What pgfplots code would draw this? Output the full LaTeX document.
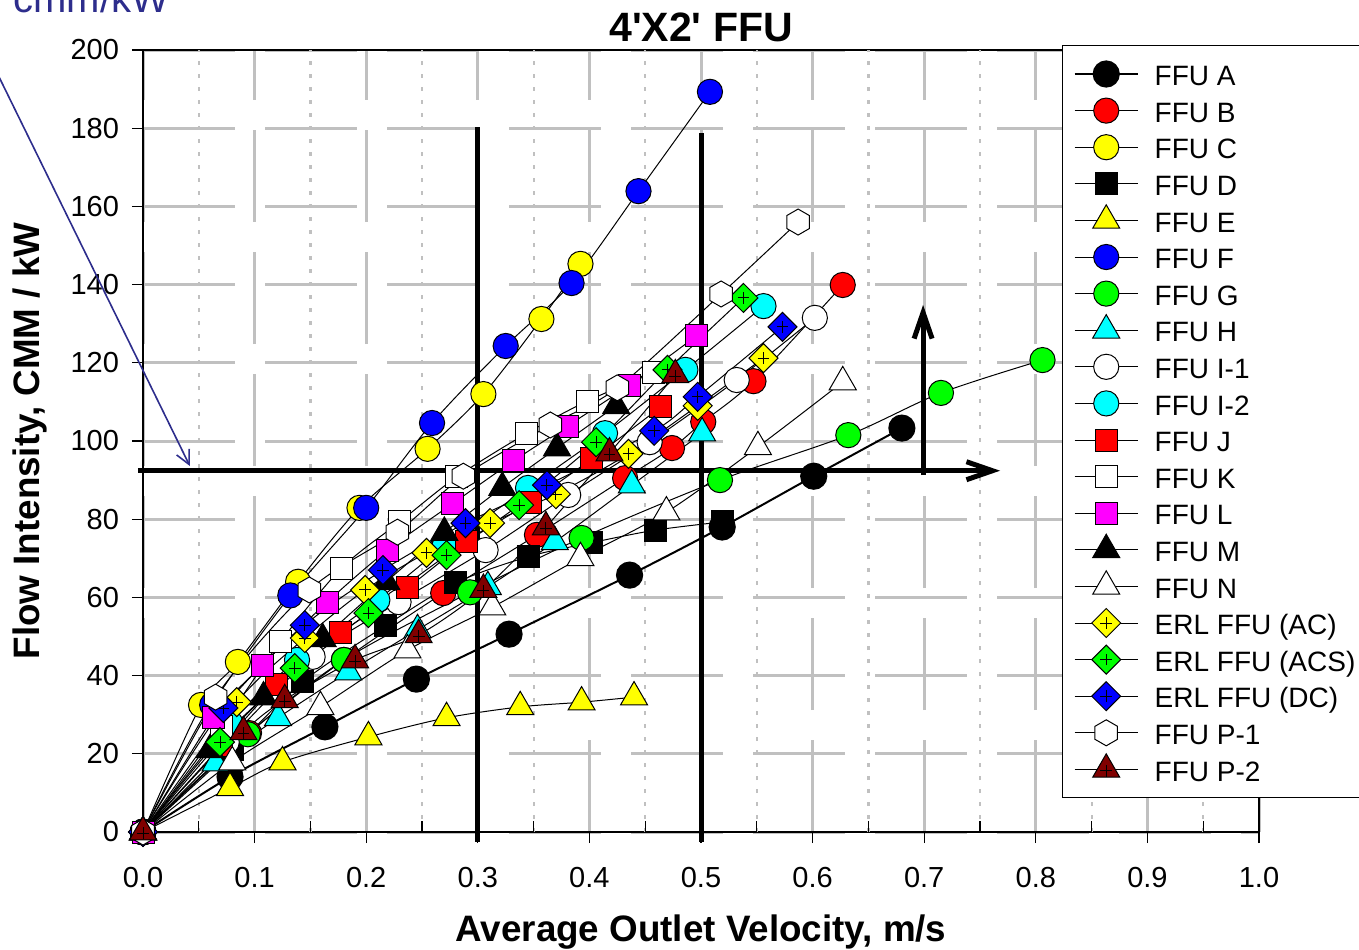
\documentclass[border=0pt]{standalone}
\usepackage{fontspec}
\setmainfont{Liberation Sans}
\usepackage{pgfplots}
\pgfplotsset{compat=1.18}
\usetikzlibrary{arrows.meta}

\definecolor{navyA}{RGB}{45,45,140}
\definecolor{gridg}{RGB}{192,192,192}
\definecolor{dkred}{RGB}{128,0,0}
\definecolor{cR}{RGB}{255,0,0}
\definecolor{cY}{RGB}{255,255,0}
\definecolor{cB}{RGB}{0,0,255}
\definecolor{cG}{RGB}{0,255,0}
\definecolor{cC}{RGB}{0,255,255}
\definecolor{cM}{RGB}{255,0,255}
\definecolor{cK}{RGB}{0,0,0}
\definecolor{cW}{RGB}{255,255,255}

\pgfdeclareplotmark{hexa}{%
 \pgfpathmoveto{\pgfqpointpolar{90}{\pgfplotmarksize}}%
 \pgfpathlineto{\pgfqpointpolar{150}{\pgfplotmarksize}}%
 \pgfpathlineto{\pgfqpointpolar{210}{\pgfplotmarksize}}%
 \pgfpathlineto{\pgfqpointpolar{270}{\pgfplotmarksize}}%
 \pgfpathlineto{\pgfqpointpolar{330}{\pgfplotmarksize}}%
 \pgfpathlineto{\pgfqpointpolar{30}{\pgfplotmarksize}}%
 \pgfpathclose\pgfusepathqfillstroke}
\pgfdeclareplotmark{tri}{%
 \pgfpathmoveto{\pgfqpointpolar{90}{\pgfplotmarksize}}%
 \pgfpathlineto{\pgfqpointpolar{210}{\pgfplotmarksize}}%
 \pgfpathlineto{\pgfqpointpolar{330}{\pgfplotmarksize}}%
 \pgfpathclose\pgfusepathqfillstroke}
\pgfdeclareplotmark{triplus}{%
 \pgfpathmoveto{\pgfqpointpolar{90}{\pgfplotmarksize}}%
 \pgfpathlineto{\pgfqpointpolar{210}{\pgfplotmarksize}}%
 \pgfpathlineto{\pgfqpointpolar{330}{\pgfplotmarksize}}%
 \pgfpathclose\pgfusepathqfillstroke
 \pgfpathmoveto{\pgfqpoint{-0.38\pgfplotmarksize}{-0.08\pgfplotmarksize}}%
 \pgfpathlineto{\pgfqpoint{0.38\pgfplotmarksize}{-0.08\pgfplotmarksize}}%
 \pgfpathmoveto{\pgfqpoint{0pt}{-0.46\pgfplotmarksize}}%
 \pgfpathlineto{\pgfqpoint{0pt}{0.30\pgfplotmarksize}}%
 \pgfusepathqstroke}
\pgfdeclareplotmark{diamondplus}{%
 \pgfpathmoveto{\pgfqpoint{0pt}{\pgfplotmarksize}}%
 \pgfpathlineto{\pgfqpoint{\pgfplotmarksize}{0pt}}%
 \pgfpathlineto{\pgfqpoint{0pt}{-\pgfplotmarksize}}%
 \pgfpathlineto{\pgfqpoint{-\pgfplotmarksize}{0pt}}%
 \pgfpathclose\pgfusepathqfillstroke
 \pgfpathmoveto{\pgfqpoint{-0.4\pgfplotmarksize}{0pt}}%
 \pgfpathlineto{\pgfqpoint{0.4\pgfplotmarksize}{0pt}}%
 \pgfpathmoveto{\pgfqpoint{0pt}{-0.4\pgfplotmarksize}}%
 \pgfpathlineto{\pgfqpoint{0pt}{0.4\pgfplotmarksize}}%
 \pgfusepathqstroke}

\pgfplotsset{
 ser/.style={black, line width=0.5pt, smooth, tension=0.5, mark options={solid, draw=black, line width=0.5pt}},
 circ/.style={ser, mark=*, mark size=6.3pt, mark options={fill=#1}},
 sq/.style={ser, mark=square*, mark size=5.5pt, mark options={fill=#1}},
 tr/.style={ser, mark=tri, mark size=7.8pt, mark options={fill=#1}},
 trp/.style={ser, mark=triplus, mark size=7.8pt, mark options={fill=#1}},
 dp/.style={ser, mark=diamondplus, mark size=7.25pt, mark options={fill=#1}},
 hx/.style={ser, mark=hexa, mark size=6.5pt, mark options={fill=#1}},
}

\begin{document}
\begin{tikzpicture}
\begin{axis}[
 at={(71.5pt,58.5pt)}, anchor=south west,
 scale only axis, width=558pt, height=391pt,
 xmin=0, xmax=1, ymin=0, ymax=200,
 xtick={0,0.1,0.2,0.3,0.4,0.5,0.6,0.7,0.8,0.9,1.0},
 xticklabels={0.0,0.1,0.2,0.3,0.4,0.5,0.6,0.7,0.8,0.9,1.0},
 ytick={0,20,40,60,80,100,120,140,160,180,200},
 tick pos=left, tick align=outside, major tick length=5.5pt,
 tick style={black, line width=0.6pt},
 axis line style={line width=0.6pt},
 extra x ticks={0.05,0.15,0.25,0.35,0.45,0.55,0.65,0.75,0.85,0.95},
 extra x tick labels={},
 extra x tick style={tick align=inside, xmajorgrids=true,
   major grid style={gridg, line width=1.1pt, dash pattern=on 2pt off 4.5pt}},
 grid=major,
 major grid style={gridg, line width=1.5pt, dash pattern=on 46pt off 15pt},
 /pgf/number format/assume math mode=true,
 ticklabel style={font=\fontsize{14.5}{14.5}\selectfont},
 xticklabel style={yshift=-8.5pt},
 yticklabel style={xshift=-3pt},
 label style={font=\bfseries\fontsize{18.4}{18.4}\selectfont},
 xlabel={Average Outlet Velocity, m/s},
 ylabel={Flow Intensity, CMM / kW},
 xlabel style={at={(axis description cs:0.5,-0.128)}, anchor=center},
 ylabel style={at={(axis description cs:-0.101,0.5)}, anchor=center},
 title={4\textquotesingle X2\textquotesingle\ FFU},
 title style={font=\bfseries\fontsize{20.5}{20.5}\selectfont, at={(axis description cs:0.5,1.014)}, anchor=center},
 clip=false,
 legend style={at={(axis description cs:0.8235,1.0064)}, anchor=north west,
   draw=black, line width=0.7pt, fill=white, font=\fontsize{14}{14}\selectfont,
   inner xsep=5.5pt, inner ysep=5pt, row sep=0pt,
   nodes={inner xsep=3.5pt, inner ysep=0pt, text height=15pt, text depth=3.3pt},
   /tikz/every odd column/.append style={column sep=4.5pt}},
 legend cell align=left,
 legend image code/.code={\draw[mark repeat=2,mark phase=2,#1] plot coordinates {(0pt,0pt) (15.75pt,0pt) (31.5pt,0pt)};},
]
\addplot[circ=cK, line width=1pt] coordinates {(0,0)(0.078,14.1)(0.163,26.9)(0.245,39.1)(0.328,50.6)(0.436,65.7)(0.519,78.0)(0.601,91.0)(0.680,103.3)};
\addlegendentry{FFU A}
\addplot[circ=cR] coordinates {(0,0)(0.095,25.3)(0.18,44)(0.269,61.1)(0.353,76)(0.432,90.5)(0.474,98.2)(0.502,104.9)(0.547,115.3)(0.627,139.9)};
\addlegendentry{FFU B}
\addplot[circ=cY] coordinates {(0,0)(0.052,32.5)(0.085,43.5)(0.139,64)(0.194,82.9)(0.255,98.0)(0.305,112.0)(0.357,131.2)(0.392,145.3)};
\addlegendentry{FFU C}
\addplot[sq=cK] coordinates {(0,0)(0.08,21)(0.143,38.4)(0.217,52.7)(0.28,63.7)(0.345,70.4)(0.402,74)(0.459,77.2)(0.519,79.3)};
\addlegendentry{FFU D}
\addplot[tr=cY] coordinates {(0,0)(0.078,11.3)(0.125,17.9)(0.202,24.3)(0.272,29.2)(0.338,32)(0.393,33.2)(0.44,34.5)};
\addlegendentry{FFU E}
\addplot[circ=cB] coordinates {(0,0)(0.062,32.5)(0.132,60.5)(0.2,82.9)(0.259,104.6)(0.325,124.3)(0.384,140.4)(0.444,163.9)(0.508,189.3)};
\addlegendentry{FFU F}
\addplot[circ=cG] coordinates {(0,0)(0.094,25)(0.18,44)(0.293,61.3)(0.393,75.2)(0.517,90)(0.632,101.5)(0.715,112.3)(0.806,120.7)};
\addlegendentry{FFU G}
\addplot[tr=cC] coordinates {(0,0)(0.065,17.6)(0.121,29.2)(0.184,40.9)(0.246,51.7)(0.309,62.7)(0.369,74.2)(0.438,88.7)(0.501,102)};
\addlegendentry{FFU H}
\addplot[circ=cW] coordinates {(0,0)(0.075,23)(0.152,44.8)(0.229,58.8)(0.307,72.1)(0.381,86.2)(0.454,99.7)(0.532,115.6)(0.602,131.5)};
\addlegendentry{FFU I-1}
\addplot[circ=cC] coordinates {(0,0)(0.078,28)(0.138,44)(0.21,59.3)(0.27,73)(0.345,88)(0.414,102)(0.486,118.2)(0.556,134.5)};
\addlegendentry{FFU I-2}
\addplot[sq=cR] coordinates {(0,0)(0.07,22)(0.12,37.6)(0.177,50.9)(0.237,62.5)(0.29,74.2)(0.347,84.4)(0.402,95.4)(0.464,108.7)};
\addlegendentry{FFU J}
\addplot[sq=cW] coordinates {(0,0)(0.07,27)(0.123,48.6)(0.178,67.5)(0.23,79.3)(0.281,90.8)(0.344,102)(0.398,110.2)(0.457,117.4)};
\addlegendentry{FFU K}
\addplot[sq=cM] coordinates {(0,0)(0.063,29.2)(0.107,42.7)(0.165,58.8)(0.219,72.1)(0.277,83.9)(0.332,94.9)(0.38,103.8)(0.436,114.3)(0.496,126.9)};
\addlegendentry{FFU L}
\addplot[tr=cK] coordinates {(0,0)(0.06,21)(0.108,34.5)(0.161,49.4)(0.218,64)(0.27,76.6)(0.322,88.1)(0.371,98.2)(0.424,109)};
\addlegendentry{FFU M}
\addplot[tr=cW] coordinates {(0,0)(0.08,17.9)(0.159,32)(0.237,46.5)(0.313,57.5)(0.392,70.1)(0.469,81.8)(0.551,98.5)(0.627,115.1)};
\addlegendentry{FFU N}
\addplot[dp=cY] coordinates {(0,0)(0.084,33.2)(0.145,49.6)(0.199,61.9)(0.254,71.4)(0.311,79)(0.37,86.4)(0.435,96.7)(0.497,109)(0.556,121.2)};
\addlegendentry{ERL FFU (AC)}
\addplot[dp=cG] coordinates {(0,0)(0.069,23)(0.136,41.9)(0.202,56)(0.272,70.8)(0.337,83.6)(0.406,99.7)(0.47,118.2)(0.538,136.6)};
\addlegendentry{ERL FFU (ACS)}
\addplot[dp=cB] coordinates {(0,0)(0.072,31.7)(0.145,52.9)(0.215,67)(0.289,79)(0.362,88.7)(0.458,102.6)(0.497,111.3)(0.573,129.2)};
\addlegendentry{ERL FFU (DC)}
\addplot[hx=cW] coordinates {(0,0)(0.065,34.5)(0.149,61.9)(0.228,76.7)(0.287,91)(0.365,104.1)(0.425,113.6)(0.518,137.6)(0.587,156)};
\addlegendentry{FFU P-1}
\addplot[trp=dkred] coordinates {(0,0)(0.09,25.6)(0.127,33.8)(0.19,44)(0.247,50.4)(0.305,62)(0.361,78)(0.418,96.9)(0.477,116.9)};
\addlegendentry{FFU P-2}

\draw[line width=2.5pt] (axis cs:0.3,180.3) -- (axis cs:0.3,-2.5);
\draw[line width=2.5pt] (axis cs:0.5,178.7) -- (axis cs:0.5,-2.5);
\draw[line width=2.5pt, -{Straight Barb[length=13pt,width=9pt]}] (axis cs:-0.0045,92.4) -- (axis cs:0.768,92.4);
\draw[line width=2.5pt, -{Straight Barb[length=13pt,width=9pt]}] (axis cs:0.699,91.3) -- (axis cs:0.699,134.8);
\draw[navyA, line width=0.8pt, -{Straight Barb[length=7pt,width=7pt]}] (axis cs:-0.146,203) -- (axis cs:0.042,93.6);
\end{axis}
\node[anchor=base west, text=navyA, font=\fontsize{20}{20}\selectfont, inner sep=0pt] at (6.5pt,468pt) {cmm/kW};
\pgfresetboundingbox
\useasboundingbox (0,0) rectangle (679.5pt,474.5pt);
\end{tikzpicture}
\end{document}
